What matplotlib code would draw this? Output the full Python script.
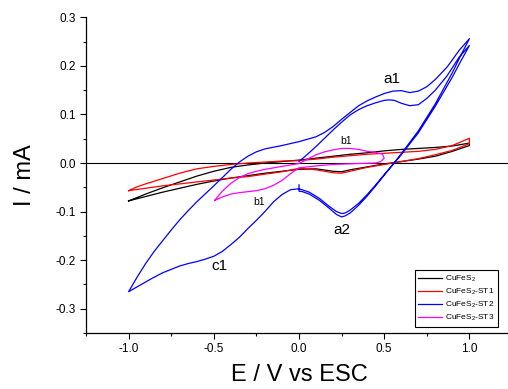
import matplotlib
matplotlib.use("Agg")
import matplotlib.pyplot as plt
from matplotlib.ticker import MultipleLocator

plt.rcParams['font.family'] = ['Liberation Sans', 'DejaVu Sans']
plt.rcParams['mathtext.default'] = 'regular'
plt.rcParams['axes.unicode_minus'] = False

# CuFeS2 (black)
black_E = [-1.0, -0.9, -0.8, -0.7, -0.6, -0.5, -0.4, -0.3, -0.2, -0.1, 0.0, 0.1, 0.2, 0.3, 0.4,
           0.5, 0.6, 0.7, 0.8, 0.9, 1.0,
           1.0, 0.9, 0.8, 0.7, 0.6, 0.5, 0.4, 0.3, 0.25, 0.2, 0.1, 0.0, -0.1, -0.2, -0.3, -0.4,
           -0.5, -0.6, -0.7, -0.8, -0.9, -1.0]
black_I = [-0.078, -0.064, -0.051, -0.039, -0.027, -0.017, -0.009, -0.004, 0.000, 0.003, 0.006, 0.010,
           0.014, 0.018, 0.021, 0.025, 0.028, 0.030, 0.032, 0.035, 0.041,
           0.036, 0.024, 0.014, 0.008, 0.003, -0.002, -0.008, -0.014, -0.018, -0.017, -0.012,
           -0.013, -0.017, -0.021, -0.026, -0.031, -0.037, -0.044, -0.052, -0.060, -0.069, -0.078]

# CuFeS2-ST1 (red)
red_E = [-1.0, -0.95, -0.9, -0.8, -0.7, -0.6, -0.5, -0.4, -0.3, -0.2, -0.1, 0.0, 0.1, 0.2, 0.3, 0.4,
         0.5, 0.6, 0.7, 0.8, 0.9, 1.0,
         1.0, 0.9, 0.8, 0.7, 0.6, 0.5, 0.4, 0.3, 0.25, 0.2, 0.1, 0.0, -0.1, -0.2, -0.3, -0.4,
         -0.5, -0.6, -0.7, -0.8, -0.9, -1.0]
red_I = [-0.057, -0.049, -0.043, -0.032, -0.021, -0.012, -0.007, -0.003, 0.000, 0.002, 0.004, 0.005,
         0.008, 0.012, 0.015, 0.018, 0.020, 0.022, 0.024, 0.028, 0.036, 0.051,
         0.040, 0.026, 0.017, 0.009, 0.003, -0.003, -0.009, -0.017, -0.021, -0.020, -0.014,
         -0.011, -0.018, -0.023, -0.028, -0.031, -0.035, -0.039, -0.043, -0.047, -0.052, -0.057]

# CuFeS2-ST2 (blue), two cycles
blue_E = [0.0, 0.05, 0.1, 0.15, 0.2, 0.25, 0.3, 0.35, 0.4, 0.45, 0.5, 0.53, 0.56, 0.6, 0.65, 0.7,
          0.75, 0.8, 0.87, 0.94, 1.0,
          0.95, 0.9, 0.8, 0.7, 0.6, 0.55, 0.5, 0.45, 0.4, 0.35, 0.3, 0.27, 0.25, 0.22, 0.18, 0.12,
          0.06, 0.0,
          -0.05, -0.1, -0.15, -0.2, -0.25, -0.3, -0.35, -0.4, -0.45, -0.5, -0.55, -0.6, -0.65,
          -0.7, -0.75, -0.8, -0.86, -0.93, -1.0,
          -0.95, -0.9, -0.85, -0.8, -0.75, -0.7, -0.65, -0.6, -0.5, -0.4, -0.35, -0.3, -0.25, -0.2,
          -0.1, 0.0, 0.1, 0.15, 0.2,
          0.25, 0.3, 0.35, 0.4, 0.45, 0.5, 0.55, 0.6, 0.65, 0.7, 0.75, 0.8, 0.87, 0.94, 1.0,
          0.95, 0.9, 0.8, 0.7, 0.6, 0.55, 0.5, 0.45, 0.4, 0.35, 0.3, 0.27, 0.25, 0.22, 0.18, 0.12,
          0.06, 0.02, 0.0, 0.0]
blue_I = [0.003, 0.018, 0.034, 0.051, 0.068, 0.084, 0.099, 0.110, 0.118, 0.124, 0.129, 0.130,
          0.129, 0.123, 0.118, 0.120, 0.133, 0.150, 0.180, 0.218, 0.242,
          0.210, 0.177, 0.117, 0.062, 0.017, -0.004, -0.024, -0.045, -0.065, -0.083, -0.097,
          -0.103, -0.104, -0.100, -0.090, -0.073, -0.060, -0.053,
          -0.055, -0.065, -0.080, -0.100, -0.118, -0.135, -0.153, -0.168, -0.182, -0.192, -0.198,
          -0.203, -0.207, -0.212, -0.219, -0.226, -0.237, -0.251, -0.265,
          -0.235, -0.207, -0.182, -0.160, -0.138, -0.117, -0.098, -0.080, -0.047, -0.013, 0.002,
          0.014, 0.023, 0.029, 0.036, 0.044, 0.054, 0.063, 0.075,
          0.090, 0.104, 0.118, 0.128, 0.136, 0.143, 0.148, 0.149, 0.145,
          0.148, 0.157, 0.172, 0.198, 0.232, 0.256,
          0.222, 0.186, 0.122, 0.066, 0.019, -0.003, -0.025, -0.047, -0.068, -0.087, -0.103,
          -0.109, -0.111, -0.106, -0.094, -0.077, -0.064, -0.059, -0.058, -0.045]

# CuFeS2-ST3 (magenta)
mag_E = [-0.495, -0.45, -0.4, -0.35, -0.3, -0.25, -0.2, -0.1, 0.0, 0.05, 0.1, 0.15, 0.2, 0.25, 0.3,
         0.35, 0.4, 0.45, 0.49, 0.5, 0.48, 0.45, 0.35, 0.2, 0.1, 0.0, -0.05, -0.1, -0.15, -0.2,
         -0.25, -0.3, -0.35, -0.4, -0.45, -0.495]
mag_I = [-0.077, -0.058, -0.042, -0.030, -0.022, -0.017, -0.013, -0.007, -0.001, 0.008, 0.017,
         0.023, 0.027, 0.030, 0.030, 0.028, 0.024, 0.022, 0.018, 0.010, 0.003, 0.000, -0.001,
         -0.003, -0.006, -0.010, -0.022, -0.036, -0.046, -0.053, -0.057, -0.059, -0.061, -0.064,
         -0.070, -0.077]

labels = ['CuFeS$_2$', 'CuFeS$_2$-ST1', 'CuFeS$_2$-ST2', 'CuFeS$_2$-ST3']

fig = plt.figure(figsize=(5.08, 3.89), dpi=100)
ax = fig.add_axes([0.1693, 0.144, 0.8386, 0.8115])

ax.axhline(0, color='black', lw=0.8, zorder=1)
ax.plot(black_E, black_I, color='black', lw=0.9, label=labels[0])
ax.plot(red_E, red_I, color='red', lw=0.9, label=labels[1])
ax.plot(blue_E, blue_I, color='blue', lw=0.9, label=labels[2])
ax.plot(mag_E, mag_I, color='magenta', lw=0.9, label=labels[3])

ax.set_xlim(-1.25, 1.25)
ax.set_ylim(-0.35, 0.3)
ax.xaxis.set_major_locator(MultipleLocator(0.5))
ax.xaxis.set_minor_locator(MultipleLocator(0.25))
ax.yaxis.set_major_locator(MultipleLocator(0.1))
ax.yaxis.set_minor_locator(MultipleLocator(0.05))
ax.set_xticks([-1.0, -0.5, 0.0, 0.5, 1.0])
ax.set_xticklabels(['-1.0', '-0.5', '0.0', '0.5', '1.0'])
ax.set_yticks([-0.3, -0.2, -0.1, 0.0, 0.1, 0.2, 0.3])
ax.set_yticklabels(['-0.3', '-0.2', '-0.1', '0.0', '0.1', '0.2', '0.3'])
ax.tick_params(which='major', direction='out', length=4, width=0.8, labelsize=8.5, colors='black')
ax.tick_params(which='minor', direction='out', length=2.5, width=0.8)

for s in ['top', 'right']:
    ax.spines[s].set_visible(False)
for s in ['left', 'bottom']:
    ax.spines[s].set_linewidth(0.9)

ax.set_xlabel('E / V vs ESC', fontsize=17, labelpad=6)
ax.set_ylabel('I / mA', fontsize=17, labelpad=14)

ax.text(0.543, 0.174, 'a1', fontsize=11, ha='center', va='center')
ax.text(0.249, -0.138, 'a2', fontsize=11, ha='center', va='center')
ax.text(-0.466, -0.213, 'c1', fontsize=11, ha='center', va='center')
ax.text(0.278, 0.046, 'b1', fontsize=7.5, ha='center', va='center')
ax.text(-0.237, -0.081, 'b1', fontsize=7.5, ha='center', va='center')

leg = ax.legend(loc='lower right', bbox_to_anchor=(0.976, 0.007), fontsize=6, frameon=True,
                fancybox=False, edgecolor='black', framealpha=1, handlelength=2.8,
                handletextpad=0.4, borderpad=0.4, labelspacing=0.35)
leg.get_frame().set_linewidth(0.8)

fig.savefig('out.png', dpi=100)
